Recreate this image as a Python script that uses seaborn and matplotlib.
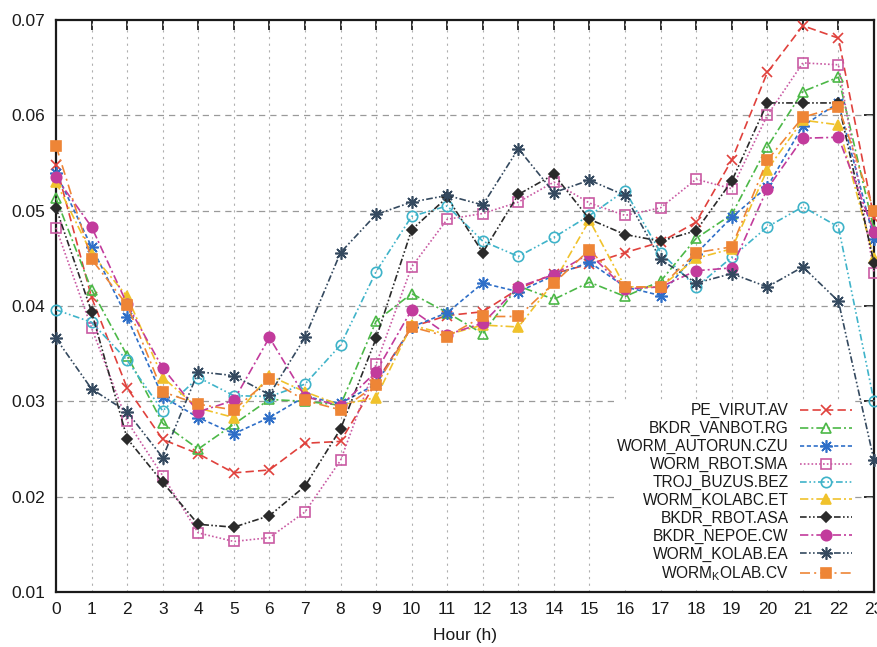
import matplotlib
matplotlib.use("Agg")
import matplotlib.pyplot as plt
import seaborn as sns
import pandas as pd
from matplotlib.ticker import FixedLocator, FormatStrFormatter

# Hourly share of detections per malware family
hours = list(range(24))

pe_virut = [0.0548, 0.0409, 0.0314, 0.0260, 0.0245, 0.0225, 0.0228, 0.0256, 0.0258, 0.0320, 0.0378, 0.0390,
            0.0394, 0.0418, 0.0434, 0.0444, 0.0456, 0.0467, 0.0488, 0.0553, 0.0645, 0.0694, 0.0681, 0.0492]
bkdr_vanbot = [0.0513, 0.0417, 0.0348, 0.0277, 0.0250, 0.0276, 0.0302, 0.0300, 0.0296, 0.0384, 0.0413, 0.0393,
               0.0371, 0.0421, 0.0407, 0.0425, 0.0410, 0.0426, 0.0471, 0.0496, 0.0567, 0.0625, 0.0640, 0.0480]
worm_autorun = [0.0540, 0.0462, 0.0388, 0.0305, 0.0283, 0.0266, 0.0283, 0.0305, 0.0298, 0.0318, 0.0378, 0.0393,
                0.0424, 0.0415, 0.0432, 0.0446, 0.0420, 0.0411, 0.0455, 0.0493, 0.0525, 0.0589, 0.0613, 0.0470]
worm_rbot_sma = [0.0482, 0.0377, 0.0279, 0.0222, 0.0162, 0.0153, 0.0157, 0.0184, 0.0238, 0.0339, 0.0441, 0.0491,
                 0.0497, 0.0509, 0.0530, 0.0508, 0.0495, 0.0503, 0.0533, 0.0523, 0.0600, 0.0655, 0.0653, 0.0435]
troj_buzus = [0.0396, 0.0383, 0.0343, 0.0290, 0.0325, 0.0306, 0.0305, 0.0318, 0.0359, 0.0436, 0.0494, 0.0505,
              0.0468, 0.0452, 0.0472, 0.0495, 0.0521, 0.0456, 0.0420, 0.0451, 0.0483, 0.0504, 0.0483, 0.0300]
worm_kolabc = [0.0530, 0.0455, 0.0410, 0.0325, 0.0293, 0.0283, 0.0327, 0.0310, 0.0296, 0.0304, 0.0380, 0.0370,
               0.0380, 0.0378, 0.0425, 0.0490, 0.0420, 0.0420, 0.0450, 0.0460, 0.0543, 0.0595, 0.0590, 0.0450]
bkdr_rbot_asa = [0.0503, 0.0394, 0.0261, 0.0215, 0.0171, 0.0168, 0.0180, 0.0211, 0.0271, 0.0366, 0.0480, 0.0514,
                 0.0456, 0.0517, 0.0538, 0.0491, 0.0475, 0.0468, 0.0479, 0.0531, 0.0613, 0.0613, 0.0613, 0.0445]
bkdr_nepoe = [0.0535, 0.0483, 0.0402, 0.0335, 0.0289, 0.0301, 0.0367, 0.0305, 0.0295, 0.0331, 0.0396, 0.0370,
              0.0382, 0.0420, 0.0433, 0.0455, 0.0418, 0.0420, 0.0437, 0.0440, 0.0523, 0.0576, 0.0577, 0.0478]
worm_kolab_ea = [0.0366, 0.0313, 0.0289, 0.0241, 0.0331, 0.0327, 0.0307, 0.0367, 0.0456, 0.0496, 0.0509, 0.0516,
                 0.0506, 0.0565, 0.0519, 0.0532, 0.0516, 0.0449, 0.0424, 0.0434, 0.0420, 0.0441, 0.0405, 0.0238]
worm_kolab_cv = [0.0568, 0.0449, 0.0401, 0.0310, 0.0297, 0.0291, 0.0323, 0.0301, 0.0291, 0.0317, 0.0378, 0.0368,
                 0.0389, 0.0389, 0.0424, 0.0459, 0.0420, 0.0420, 0.0456, 0.0462, 0.0553, 0.0598, 0.0609, 0.0500]

labels = ["PE_VIRUT.AV", "BKDR_VANBOT.RG", "WORM_AUTORUN.CZU", "WORM_RBOT.SMA", "TROJ_BUZUS.BEZ",
          "WORM_KOLABC.ET", "BKDR_RBOT.ASA", "BKDR_NEPOE.CW", "WORM_KOLAB.EA", r"WORM$_\mathregular{K}$OLAB.CV"]
series = [pe_virut, bkdr_vanbot, worm_autorun, worm_rbot_sma, troj_buzus,
          worm_kolabc, bkdr_rbot_asa, bkdr_nepoe, worm_kolab_ea, worm_kolab_cv]

y_ticks = [0.01, 0.02, 0.03, 0.04, 0.05, 0.06, 0.07]

# Per-series style: colour, marker, filled?, marker size, dash pattern
asterisk = (8, 2, 0)
styles = [
    ("#e0413c", "x", True, 7, (5, 2.5)),
    ("#4cb847", "^", False, 7, (5, 1.8, 1.2, 1.8)),
    ("#2f6fc8", asterisk, True, 9, (2.5, 1.6)),
    ("#c95aa3", "s", False, 7.5, (1.0, 1.3)),
    ("#3fb3c9", "o", False, 7.5, (4, 1.6, 1, 1.6, 1, 1.6)),
    ("#f0c22c", "^", True, 7, (5, 1.8, 1.2, 1.8)),
    ("#2a2a2a", "D", True, 5.5, (4, 1.4, 1, 1.4, 1, 1.4)),
    ("#c23b9c", "o", True, 7.5, (5, 1.8, 1.2, 1.8)),
    ("#34495f", asterisk, True, 9, (4, 1.4, 1, 1.4, 1, 1.4)),
    ("#ee8536", "s", True, 7, (6, 2.5, 1.2, 2.5)),
]

sns.set_theme(style="white")
plt.rcParams["font.family"] = ["Liberation Sans", "DejaVu Sans"]
plt.rcParams["mathtext.default"] = "regular"

fig = plt.figure(figsize=(8.77, 6.47), dpi=100)
ax = fig.add_axes([56 / 877, 1 - 592 / 647, (874 - 56) / 877, (592 - 20) / 647])

for vals, lab, (col, mk, filled, ms, dash) in zip(series, labels, styles):
    df = pd.DataFrame({"hour": hours, "share": vals})
    sns.lineplot(data=df, x="hour", y="share", ax=ax, label=lab, color=col,
                 marker=mk, markersize=ms, linewidth=1.2,
                 linestyle=(0, dash),
                 markerfacecolor=(col if filled else "none"),
                 markeredgecolor=col, markeredgewidth=1.2,
                 sort=False, errorbar=None, clip_on=False, zorder=3)

ax.set_xlim(0, 23)
ax.set_ylim(0.01, 0.07)
ax.xaxis.set_major_locator(FixedLocator(hours))
ax.yaxis.set_major_locator(FixedLocator(y_ticks))
ax.yaxis.set_major_formatter(FormatStrFormatter("%.2f"))

# Grid: dashed horizontals, dotted verticals
ax.grid(False)
for yv in y_ticks[1:-1]:
    ax.axhline(yv, color="#9a9a9a", lw=0.9, ls=(0, (5, 4)), zorder=1)
for xv in hours[1:-1]:
    ax.axvline(xv, color="#b0b0b0", lw=0.8, ls=(0, (2, 4)), zorder=1)

for sp in ax.spines.values():
    sp.set_color("#1a1a1a")
    sp.set_linewidth(1.6)
    sp.set_visible(True)

ax.tick_params(axis="both", which="major", direction="in", length=7, width=1.3,
               top=True, right=True, labelsize=12.5, colors="#1a1a1a", pad=8)
ax.tick_params(axis="x", pad=7)

ax.set_xlabel("Hour (h)", fontsize=12.5, color="#1a1a1a", labelpad=8)
ax.set_ylabel("")

handles, labs = ax.get_legend_handles_labels()
leg = ax.legend(handles, labs, loc="lower right", bbox_to_anchor=(0.986, -0.004),
                markerfirst=False, frameon=True, fontsize=11.2, handlelength=3.3,
                handletextpad=0.75, labelspacing=0.18, borderpad=0.2)
leg.get_frame().set_facecolor("white")
leg.get_frame().set_edgecolor("none")
leg.get_frame().set_alpha(1.0)
leg.set_zorder(5)
for t in leg.get_texts():
    t.set_color("#1a1a1a")

fig.savefig("out.png", dpi=100)
